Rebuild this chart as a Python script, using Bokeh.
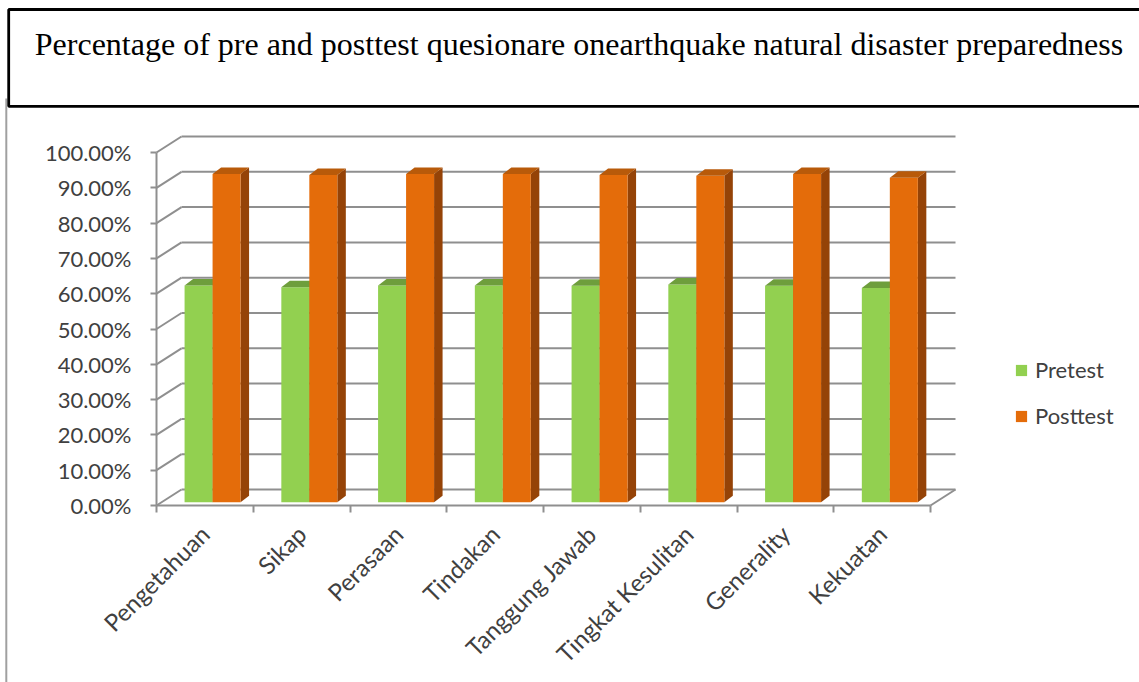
import numpy as np
from bokeh.plotting import figure
from bokeh.models import Range1d, FixedTicker, NumeralTickFormatter, Legend, LegendItem, LinearAxis
from bokeh.embed import file_html
from bokeh.resources import INLINE
from bokeh.core.properties import value

# ---------------- data ----------------
title_text = "Percentage of pre and posttest quesionare onearthquake natural disaster preparedness"
categories = ["Pengetahuan", "Sikap", "Perasaan", "Tindakan", "Tanggung Jawab",
              "Tingkat Kesulitan", "Generality", "Kekuatan"]
pretest = [61.4, 60.9, 61.4, 61.4, 61.3, 61.7, 61.3, 60.7]
posttest = [93.0, 92.7, 93.0, 93.0, 92.7, 92.5, 93.0, 91.9]
series_names = ["Pretest", "Posttest"]
y_ticks = [0.0, 0.1, 0.2, 0.3, 0.4, 0.5, 0.6, 0.7, 0.8, 0.9, 1.0]

# ---------------- layout constants (pixels) ----------------
WIDTH, HEIGHT = 1139, 682
X0, Y0 = 156, 505          # pixel position of the front axes origin
PX = 96.75                 # px per category unit
PY = 353.0                 # px per 1.0 value


def fx(px):
    return (px - X0) / PX


def fy(py):
    return (Y0 - py) / PY


# 3D offsets (data units)
DX, DY = 25 / PX, 16 / PY          # wall depth
W = 28 / PX                        # bar width
SX = 7.7 / PX                      # front-face horizontal shift
B0 = 3.3 / PY                      # front-face baseline lift
BDX, BDY = 8.5 / PX, 6.5 / PY      # bar depth

GREEN = ("#92D050", "#6E9E3C", "#5E8A30")
ORANGE = ("#E46C0A", "#B85A0A", "#954307")
GRID = "#8f8f8f"
TXT = "#404040"
FONT = "Lato"

p = figure(width=WIDTH, height=HEIGHT,
           x_range=Range1d(fx(0), fx(WIDTH)), y_range=Range1d(fy(HEIGHT), fy(0)),
           min_border=0, toolbar_location=None, output_backend="svg",
           x_axis_location=None, y_axis_location=None)
p.xgrid.visible = False
p.ygrid.visible = False
p.outline_line_color = None

# ---------------- title box & chart-area left border ----------------
p.segment(x0=[fx(5.8)], y0=[fy(98)], x1=[fx(5.8)], y1=[fy(HEIGHT + 5)],
          line_color="#a0a0a0", line_width=2)
p.quad(left=[fx(8.2)], right=[fx(WIDTH + 10)], top=[fy(9)], bottom=[fy(105.8)],
       fill_color="white", line_color="black", line_width=2.8)
p.text(x=[fx(578.5)], y=[fy(43)], text=[title_text], text_font=value("Liberation Serif"),
       text_font_size="32px", text_align="center", text_baseline="alphabetic", text_color="black")

n = len(categories)
# back wall gridlines and left-wall diagonals
p.multi_line(xs=[[DX, n + DX] for v in y_ticks], ys=[[v + DY, v + DY] for v in y_ticks],
             line_color=GRID, line_width=2)
p.multi_line(xs=[[0, DX] for v in y_ticks], ys=[[v, v + DY] for v in y_ticks],
             line_color=GRID, line_width=2)
# floor right edge
p.segment(x0=[n], y0=[0], x1=[n + DX], y1=[DY], line_color=GRID, line_width=2)


def bar_faces(vals, offset_sign):
    lefts, rights, tops = [], [], []
    for i, v in enumerate(vals):
        c = i + 0.5 + SX
        if offset_sign < 0:
            L, R = c - W, c
        else:
            L, R = c, c + W
        lefts.append(L)
        rights.append(R)
        tops.append(B0 + v / 100.0)
    top_xs = [[L, R, R + BDX, L + BDX] for L, R in zip(lefts, rights)]
    top_ys = [[T, T, T + BDY, T + BDY] for T in tops]
    side_xs = [[R, R, R + BDX, R + BDX] for R in rights]
    side_ys = [[B0, T, T + BDY, B0 + BDY] for T in tops]
    return lefts, rights, tops, top_xs, top_ys, side_xs, side_ys


renderers = []
for vals, sign, cols in [(pretest, -1, GREEN), (posttest, 1, ORANGE)]:
    L, R, T, txs, tys, sxs, sys_ = bar_faces(vals, sign)
    p.patches(xs=sxs, ys=sys_, fill_color=cols[2], line_color=None)
    r = p.quad(left=L, right=R, bottom=[B0] * n, top=T, fill_color=cols[0], line_color=None)
    p.patches(xs=txs, ys=tys, fill_color=cols[1], line_color=None)
    renderers.append(r)

# y axis (front vertical axis)
ya = LinearAxis(fixed_location=0)
ya.ticker = FixedTicker(ticks=y_ticks)
ya.formatter = NumeralTickFormatter(format="0.00%")
ya.bounds = (0, 1)
ya.axis_line_color = GRID
ya.axis_line_width = 2
ya.major_tick_line_color = GRID
ya.major_tick_line_width = 2
ya.major_tick_out = 6
ya.major_tick_in = 0
ya.minor_tick_out = 0
ya.minor_tick_in = 0
ya.major_label_text_font = FONT
ya.major_label_text_font_size = "22px"
ya.major_label_text_color = TXT
ya.major_label_standoff = 19
p.add_layout(ya, "left")

# x axis (front floor edge)
xa = LinearAxis(fixed_location=0)
centers = [i + 0.5 for i in range(n)]
xa.ticker = FixedTicker(ticks=centers, minor_ticks=list(range(n + 1)))
xa.major_label_overrides = {c: lab for c, lab in zip(centers, categories)}
xa.bounds = (0, n)
xa.axis_line_color = GRID
xa.axis_line_width = 2
xa.major_tick_out = 0
xa.major_tick_in = 0
xa.minor_tick_out = 7
xa.minor_tick_in = 0
xa.minor_tick_line_color = GRID
xa.minor_tick_line_width = 2
xa.major_label_orientation = np.pi / 4
xa.major_label_text_font = FONT
xa.major_label_text_font_size = "24px"
xa.major_label_text_color = TXT
xa.major_label_standoff = 17
p.add_layout(xa, "below")

legend = Legend(items=[LegendItem(label=series_names[0], renderers=[renderers[0]]),
                       LegendItem(label=series_names[1], renderers=[renderers[1]])],
                location=(1014, 253), glyph_width=14, glyph_height=14,
                label_text_font=FONT, label_text_font_size="22px", label_text_color=TXT,
                label_standoff=7, spacing=19, padding=0, margin=0, label_height=26,
                border_line_color=None, background_fill_alpha=0)
p.add_layout(legend)

open("out.html", "w").write(file_html(p, INLINE))
